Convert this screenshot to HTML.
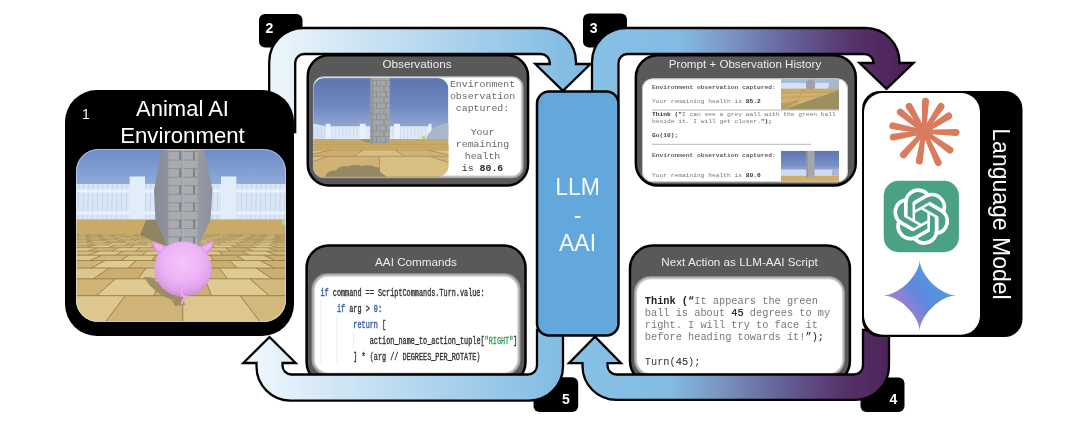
<!DOCTYPE html>
<html><head><meta charset="utf-8"><title>LLM-AAI</title>
<style>
html,body{margin:0;padding:0;background:#fff;}
body{width:1080px;height:423px;overflow:hidden;font-family:"Liberation Sans",sans-serif;}
svg{display:block;will-change:transform;transform:translateZ(0)}
.sans{font-family:"Liberation Sans",sans-serif}
.mono{font-family:"Liberation Mono",monospace}
.serif{font-family:"Liberation Serif",serif}
</style></head><body>
<svg width="1080" height="423" viewBox="0 0 1080 423">
<defs>
  <linearGradient id="gA2" gradientUnits="userSpaceOnUse" x1="269" y1="0" x2="577" y2="0">
    <stop offset="0" stop-color="#eef6fc"/><stop offset="1" stop-color="#80bbe2"/>
  </linearGradient>
  <linearGradient id="gA5" gradientUnits="userSpaceOnUse" x1="255" y1="0" x2="564" y2="0">
    <stop offset="0" stop-color="#eef6fc"/><stop offset="1" stop-color="#80bbe2"/>
  </linearGradient>
  <linearGradient id="gA3" gradientUnits="userSpaceOnUse" x1="591" y1="0" x2="900" y2="0">
    <stop offset="0" stop-color="#86c0e5"/><stop offset="0.28" stop-color="#84bde3"/><stop offset="0.45" stop-color="#7a95c1"/><stop offset="0.65" stop-color="#646098"/><stop offset="0.85" stop-color="#55336a"/><stop offset="1" stop-color="#4e2259"/>
  </linearGradient>
  <linearGradient id="gA4" gradientUnits="userSpaceOnUse" x1="581" y1="0" x2="890" y2="0">
    <stop offset="0" stop-color="#86c0e5"/><stop offset="0.28" stop-color="#84bde3"/><stop offset="0.45" stop-color="#7a95c1"/><stop offset="0.65" stop-color="#646098"/><stop offset="0.85" stop-color="#55336a"/><stop offset="1" stop-color="#4e2259"/>
  </linearGradient>
</defs>

<!-- number boxes -->
<g id="numboxes">
  <rect x="259" y="14" width="43.5" height="33.5" rx="6" fill="#000"/>
  <rect x="583" y="13.5" width="44" height="34" rx="6" fill="#000"/>
  <rect x="860.5" y="377.4" width="44" height="34.5" rx="6" fill="#000"/>
  <rect x="533.5" y="377.2" width="44.7" height="34.8" rx="6" fill="#000"/>
  <g class="sans" font-weight="bold" font-size="14" fill="#fff" text-anchor="middle">
    <text x="269.5" y="33">2</text>
    <text x="593.7" y="32.5">3</text>
    <text x="893.4" y="404.3">4</text>
    <text x="566" y="404">5</text>
  </g>
</g>

<!-- gray panels -->
<g id="panels">
  <!-- Observations -->
  <rect x="307.75" y="55.25" width="220.3" height="130.2" rx="21" fill="#595959" stroke="#000" stroke-width="2.5"/>
  <defs><clipPath id="bv1"><rect x="312.9" y="76.2" width="210.7" height="102" rx="11"/></clipPath><filter id="bf1" x="-10%" y="-10%" width="120%" height="120%"><feGaussianBlur stdDeviation="1.38462"/></filter></defs>
<g clip-path="url(#bv1)"><rect x="311.9" y="75.2" width="212.7" height="104" fill="#939393"/>
<rect x="313.89" y="77.19" width="207.73" height="99.03" rx="9.2" fill="#fff" filter="url(#bf1)"/>
<rect x="314.34" y="77.64" width="206.38" height="97.68" rx="8.12" fill="#fff"/></g>
  <text class="sans" x="417" y="67.5" font-size="11.75" fill="#ececec" text-anchor="middle">Observations</text>
  <defs><clipPath id="cobs"><rect x="313.3" y="78.1" width="135.1" height="98.7" rx="11"/></clipPath>
<linearGradient id="sky2" x1="0" y1="0" x2="0" y2="1"><stop offset="0" stop-color="#5d76b0"/><stop offset="0.45" stop-color="#6f88bf"/><stop offset="0.8" stop-color="#93a8d2"/><stop offset="1" stop-color="#c0cee6"/></linearGradient>
<linearGradient id="flr2" x1="0" y1="0" x2="0" y2="1"><stop offset="0" stop-color="#c8a766"/><stop offset="1" stop-color="#d2b374"/></linearGradient>
</defs>
<g clip-path="url(#cobs)">
<rect x="313.3" y="78.1" width="135.1" height="62" fill="url(#sky2)"/>
<polygon points="313,123.5 326,126.3 326,139.5 313,139.5" fill="#d5e2f2"/>
<rect x="326" y="126.3" width="44.5" height="13.2" fill="#dfeaf7"/>
<rect x="389.7" y="126.3" width="40.5" height="13.2" fill="#dfeaf7"/>
<line x1="314.0" y1="127" x2="314.0" y2="139" stroke="#c9d7ea" stroke-width="0.7"/>
<line x1="317.6" y1="127" x2="317.6" y2="139" stroke="#c9d7ea" stroke-width="0.7"/>
<line x1="321.2" y1="127" x2="321.2" y2="139" stroke="#c9d7ea" stroke-width="0.7"/>
<line x1="324.8" y1="127" x2="324.8" y2="139" stroke="#c9d7ea" stroke-width="0.7"/>
<line x1="328.4" y1="127" x2="328.4" y2="139" stroke="#c9d7ea" stroke-width="0.7"/>
<line x1="332.0" y1="127" x2="332.0" y2="139" stroke="#c9d7ea" stroke-width="0.7"/>
<line x1="335.6" y1="127" x2="335.6" y2="139" stroke="#c9d7ea" stroke-width="0.7"/>
<line x1="339.2" y1="127" x2="339.2" y2="139" stroke="#c9d7ea" stroke-width="0.7"/>
<line x1="342.8" y1="127" x2="342.8" y2="139" stroke="#c9d7ea" stroke-width="0.7"/>
<line x1="346.4" y1="127" x2="346.4" y2="139" stroke="#c9d7ea" stroke-width="0.7"/>
<line x1="350.0" y1="127" x2="350.0" y2="139" stroke="#c9d7ea" stroke-width="0.7"/>
<line x1="353.6" y1="127" x2="353.6" y2="139" stroke="#c9d7ea" stroke-width="0.7"/>
<line x1="357.2" y1="127" x2="357.2" y2="139" stroke="#c9d7ea" stroke-width="0.7"/>
<line x1="360.8" y1="127" x2="360.8" y2="139" stroke="#c9d7ea" stroke-width="0.7"/>
<line x1="364.4" y1="127" x2="364.4" y2="139" stroke="#c9d7ea" stroke-width="0.7"/>
<line x1="393.2" y1="127" x2="393.2" y2="139" stroke="#c9d7ea" stroke-width="0.7"/>
<line x1="396.8" y1="127" x2="396.8" y2="139" stroke="#c9d7ea" stroke-width="0.7"/>
<line x1="400.4" y1="127" x2="400.4" y2="139" stroke="#c9d7ea" stroke-width="0.7"/>
<line x1="404.0" y1="127" x2="404.0" y2="139" stroke="#c9d7ea" stroke-width="0.7"/>
<line x1="407.6" y1="127" x2="407.6" y2="139" stroke="#c9d7ea" stroke-width="0.7"/>
<line x1="411.2" y1="127" x2="411.2" y2="139" stroke="#c9d7ea" stroke-width="0.7"/>
<line x1="414.8" y1="127" x2="414.8" y2="139" stroke="#c9d7ea" stroke-width="0.7"/>
<line x1="418.4" y1="127" x2="418.4" y2="139" stroke="#c9d7ea" stroke-width="0.7"/>
<line x1="422.0" y1="127" x2="422.0" y2="139" stroke="#c9d7ea" stroke-width="0.7"/>
<line x1="425.6" y1="127" x2="425.6" y2="139" stroke="#c9d7ea" stroke-width="0.7"/>
<rect x="325.8" y="123.8" width="4.6" height="15.7" fill="#eaf1fa"/>
<rect x="359.8" y="123.8" width="5.8" height="15.7" fill="#eaf1fa"/>
<rect x="394" y="123.8" width="6" height="15.7" fill="#eaf1fa"/>
<rect x="428.5" y="123.8" width="3" height="15.7" fill="#eaf1fa"/>
<path d="M426 139.5 C428 131 437 124.5 449.5 122.5 L449.5 139.5 Z" fill="#a9b7cd"/>
<rect x="313.3" y="139.1" width="135.1" height="37.7" fill="url(#flr2)"/>
<polygon points="157.0,176.8 268.2,176.8 329.0,156.2 278.5,156.2" fill="#d9be82" stroke="#a58c56" stroke-width="0.60"/>
<polygon points="268.2,176.8 379.4,176.8 379.4,156.2 329.0,156.2" fill="#d1b275" stroke="#a58c56" stroke-width="0.60"/>
<polygon points="379.4,176.8 490.6,176.8 429.8,156.2 379.4,156.2" fill="#d9be82" stroke="#a58c56" stroke-width="0.60"/>
<polygon points="490.6,176.8 601.8,176.8 480.3,156.2 429.8,156.2" fill="#d1b275" stroke="#a58c56" stroke-width="0.60"/>
<polygon points="253.3,156.2 303.8,156.2 332.1,149.8 300.5,149.8" fill="#d9be82" stroke="#a58c56" stroke-width="0.60"/>
<polygon points="303.8,156.2 354.2,156.2 363.6,149.8 332.1,149.8" fill="#cdae70" stroke="#a58c56" stroke-width="0.60"/>
<polygon points="354.2,156.2 404.6,156.2 395.2,149.8 363.6,149.8" fill="#d9be82" stroke="#a58c56" stroke-width="0.60"/>
<polygon points="404.6,156.2 455.0,156.2 426.7,149.8 395.2,149.8" fill="#d1b275" stroke="#a58c56" stroke-width="0.60"/>
<polygon points="455.0,156.2 505.5,156.2 458.3,149.8 426.7,149.8" fill="#d9be82" stroke="#a58c56" stroke-width="0.60"/>
<polygon points="284.7,149.8 316.3,149.8 333.5,146.9 310.5,146.9" fill="#d9be82" stroke="#a58c56" stroke-width="0.40"/>
<polygon points="316.3,149.8 347.8,149.8 356.4,146.9 333.5,146.9" fill="#cdae70" stroke="#a58c56" stroke-width="0.40"/>
<polygon points="347.8,149.8 379.4,149.8 379.4,146.9 356.4,146.9" fill="#d9be82" stroke="#a58c56" stroke-width="0.40"/>
<polygon points="379.4,149.8 411.0,149.8 402.4,146.9 379.4,146.9" fill="#d1b275" stroke="#a58c56" stroke-width="0.40"/>
<polygon points="411.0,149.8 442.5,149.8 425.3,146.9 402.4,146.9" fill="#d7bb7e" stroke="#a58c56" stroke-width="0.40"/>
<polygon points="442.5,149.8 474.1,149.8 448.3,146.9 425.3,146.9" fill="#d1b275" stroke="#a58c56" stroke-width="0.40"/>
<polygon points="474.1,149.8 505.6,149.8 471.2,146.9 448.3,146.9" fill="#d9be82" stroke="#a58c56" stroke-width="0.40"/>
<polygon points="276.1,146.9 299.0,146.9 316.3,145.2 298.2,145.2" fill="#d1b275" stroke="#a58c56" stroke-width="0.30"/>
<polygon points="299.0,146.9 322.0,146.9 334.3,145.2 316.3,145.2" fill="#d9be82" stroke="#a58c56" stroke-width="0.30"/>
<polygon points="322.0,146.9 345.0,146.9 352.3,145.2 334.3,145.2" fill="#d1b275" stroke="#a58c56" stroke-width="0.30"/>
<polygon points="345.0,146.9 367.9,146.9 370.4,145.2 352.3,145.2" fill="#d7bb7e" stroke="#a58c56" stroke-width="0.30"/>
<polygon points="367.9,146.9 390.9,146.9 388.4,145.2 370.4,145.2" fill="#cdae70" stroke="#a58c56" stroke-width="0.30"/>
<polygon points="390.9,146.9 413.8,146.9 406.5,145.2 388.4,145.2" fill="#d7bb7e" stroke="#a58c56" stroke-width="0.30"/>
<polygon points="413.8,146.9 436.8,146.9 424.5,145.2 406.5,145.2" fill="#cdae70" stroke="#a58c56" stroke-width="0.30"/>
<polygon points="436.8,146.9 459.8,146.9 442.5,145.2 424.5,145.2" fill="#d9be82" stroke="#a58c56" stroke-width="0.30"/>
<polygon points="459.8,146.9 482.7,146.9 460.6,145.2 442.5,145.2" fill="#d1b275" stroke="#a58c56" stroke-width="0.30"/>
<rect x="313.3" y="139.1" width="135.1" height="10.8" fill="#c8a766"/>
<line x1="313.3" x2="448.4" y1="144.5" y2="144.5" stroke="#b89a5c" stroke-width="0.5"/>
<path d="M324 178.8 C326 172 331 170 336 170.5 C338 166.5 344 165.5 348 166.5 C352 164.5 358 164.8 362 166 C366 164.5 372 165 375 167 L379.4 167.5 L380 172 L386 176 L387 178.8 Z" fill="#948966"/>
<ellipse cx="423.6" cy="137.4" rx="2.3" ry="1.5" fill="#b5dc6a"/>
<polygon points="359.5,139.3 370.5,139.3 370.5,143.4 365,142.2" fill="#a39468"/>
<rect x="370.5" y="78" width="19.3" height="65.4" fill="#a3a5a9"/>
<rect x="370.5" y="78" width="3" height="65.4" fill="#94979d"/>
<line x1="380" x2="380" y1="78" y2="143.4" stroke="#8f9197" stroke-width="0.6"/>
<line x1="370.5" x2="389.8" y1="80.5" y2="80.5" stroke="#8a8c92" stroke-width="0.6"/>
<line x1="376.5" x2="376.5" y1="80.5" y2="86.1" stroke="#7d7f85" stroke-width="0.7"/>
<line x1="386.0" x2="386.0" y1="80.5" y2="86.1" stroke="#7d7f85" stroke-width="0.7"/>
<line x1="370.5" x2="389.8" y1="86.1" y2="86.1" stroke="#8a8c92" stroke-width="0.6"/>
<line x1="384.0" x2="384.0" y1="86.1" y2="91.7" stroke="#7d7f85" stroke-width="0.7"/>
<line x1="370.5" x2="389.8" y1="91.7" y2="91.7" stroke="#8a8c92" stroke-width="0.6"/>
<line x1="376.5" x2="376.5" y1="91.7" y2="97.3" stroke="#7d7f85" stroke-width="0.7"/>
<line x1="386.0" x2="386.0" y1="91.7" y2="97.3" stroke="#7d7f85" stroke-width="0.7"/>
<line x1="370.5" x2="389.8" y1="97.3" y2="97.3" stroke="#8a8c92" stroke-width="0.6"/>
<line x1="384.0" x2="384.0" y1="97.3" y2="102.9" stroke="#7d7f85" stroke-width="0.7"/>
<line x1="370.5" x2="389.8" y1="102.9" y2="102.9" stroke="#8a8c92" stroke-width="0.6"/>
<line x1="376.5" x2="376.5" y1="102.9" y2="108.5" stroke="#7d7f85" stroke-width="0.7"/>
<line x1="386.0" x2="386.0" y1="102.9" y2="108.5" stroke="#7d7f85" stroke-width="0.7"/>
<line x1="370.5" x2="389.8" y1="108.5" y2="108.5" stroke="#8a8c92" stroke-width="0.6"/>
<line x1="384.0" x2="384.0" y1="108.5" y2="114.1" stroke="#7d7f85" stroke-width="0.7"/>
<line x1="370.5" x2="389.8" y1="114.1" y2="114.1" stroke="#8a8c92" stroke-width="0.6"/>
<line x1="376.5" x2="376.5" y1="114.1" y2="119.7" stroke="#7d7f85" stroke-width="0.7"/>
<line x1="386.0" x2="386.0" y1="114.1" y2="119.7" stroke="#7d7f85" stroke-width="0.7"/>
<line x1="370.5" x2="389.8" y1="119.7" y2="119.7" stroke="#8a8c92" stroke-width="0.6"/>
<line x1="384.0" x2="384.0" y1="119.7" y2="125.3" stroke="#7d7f85" stroke-width="0.7"/>
<line x1="370.5" x2="389.8" y1="125.3" y2="125.3" stroke="#8a8c92" stroke-width="0.6"/>
<line x1="376.5" x2="376.5" y1="125.3" y2="130.9" stroke="#7d7f85" stroke-width="0.7"/>
<line x1="386.0" x2="386.0" y1="125.3" y2="130.9" stroke="#7d7f85" stroke-width="0.7"/>
<line x1="370.5" x2="389.8" y1="130.9" y2="130.9" stroke="#8a8c92" stroke-width="0.6"/>
<line x1="384.0" x2="384.0" y1="130.9" y2="136.5" stroke="#7d7f85" stroke-width="0.7"/>
<line x1="370.5" x2="389.8" y1="136.5" y2="136.5" stroke="#8a8c92" stroke-width="0.6"/>
<line x1="376.5" x2="376.5" y1="136.5" y2="142.1" stroke="#7d7f85" stroke-width="0.7"/>
<line x1="386.0" x2="386.0" y1="136.5" y2="142.1" stroke="#7d7f85" stroke-width="0.7"/>
<line x1="370.5" x2="389.8" y1="142.1" y2="142.1" stroke="#8a8c92" stroke-width="0.6"/>
<line x1="384.0" x2="384.0" y1="142.1" y2="143.4" stroke="#7d7f85" stroke-width="0.7"/>
</g>
  <g class="mono" font-size="9.9" fill="#686868" text-anchor="middle">
    <text x="482.5" y="86.8">Environment</text>
    <text x="482.5" y="99">observation</text>
    <text x="482.5" y="111.2">captured:</text>
    <text x="482.5" y="134.6">Your</text>
    <text x="482.5" y="146.8">remaining</text>
    <text x="482.5" y="159">health</text>
    <text x="482.5" y="171.2" fill="#333">is <tspan font-weight="bold" fill="#2a2a2a">80.6</tspan></text>
  </g>
  <!-- AAI Commands -->
  <rect x="306.6" y="245.55" width="218.9" height="138.5" rx="22" fill="#595959" stroke="#000" stroke-width="2.5"/>
  <defs><clipPath id="bv2"><rect x="311.5" y="273.3" width="209" height="102.2" rx="16"/></clipPath><filter id="bf2" x="-10%" y="-10%" width="120%" height="120%"><feGaussianBlur stdDeviation="1.61538"/></filter></defs>
<g clip-path="url(#bv2)"><rect x="310.5" y="272.3" width="211" height="104.2" fill="#939393"/>
<rect x="314.03" y="275.83" width="204.16" height="97.36" rx="13.9" fill="#fff" filter="url(#bf2)"/>
<rect x="315.18" y="276.98" width="201.96" height="95.16" rx="12.64" fill="#fff"/></g>
  <text class="sans" x="416" y="265.7" font-size="11.7" fill="#ececec" text-anchor="middle">AAI Commands</text>
  <g stroke="#e4e4e4" stroke-width="0.7">
    <line x1="321" y1="300" x2="321" y2="364"/><line x1="337" y1="316" x2="337" y2="364"/><line x1="353.5" y1="332" x2="353.5" y2="348"/>
  </g>
  <g class="mono" font-size="10.2" fill="#303030" stroke="#303030" stroke-width="0.35" transform="translate(320.5,0) scale(0.671,1)">
    <text x="0" y="296"><tspan fill="#2a57a8" stroke="#2a57a8">if</tspan> command == ScriptCommands.Turn.value:</text>
    <text x="24.48" y="312"><tspan fill="#2a57a8" stroke="#2a57a8">if</tspan> arg &gt; <tspan fill="#2a57a8" stroke="#2a57a8">0</tspan>:</text>
    <text x="48.96" y="328"><tspan fill="#2a57a8" stroke="#2a57a8">return</tspan> [</text>
    <text x="73.44" y="344">action_name_to_action_tuple[<tspan fill="#2f9a5c" stroke="#2f9a5c">"RIGHT"</tspan>]</text>
    <text x="48.96" y="360">] * (arg // DEGREES_PER_ROTATE)</text>
  </g>
  <!-- Prompt + Observation History -->
  <rect x="635.85" y="55.25" width="219.9" height="130.2" rx="22" fill="#595959" stroke="#000" stroke-width="2.5"/>
  <rect x="642" y="78.4" width="206" height="103.8" rx="10.5" fill="#fff"/><rect x="642.5" y="78.9" width="205" height="102.8" rx="10" fill="none" stroke="#c6c6c6" stroke-width="1"/>
  <text class="sans" x="745" y="67.5" font-size="11.6" fill="#ececec" text-anchor="middle">Prompt + Observation History</text>
  <defs><clipPath id="csm1"><rect x="781" y="78.7" width="58" height="30.8"/></clipPath></defs>
<g clip-path="url(#csm1)">
<rect x="781" y="78.7" width="58" height="10" fill="#a4bce0"/>
<rect x="781" y="83" width="58" height="6" fill="#d6e2f1"/>
<path d="M806 89 L806 82.5 C807 78.6 814 78.6 815 82.5 L815 89Z" fill="#9ea2aa"/>
<polygon points="827.8,89 829.5,82 839,80.5 839,89" fill="#a9b7cb"/>
<rect x="781" y="88.8" width="58" height="22" fill="#d2b06d"/>
<rect x="781" y="88.8" width="58" height="3.5" fill="#cba968"/>
<polygon points="784,109.5 839,90 839,109.5" fill="#9d8f62"/>
<polygon points="781,103.5 800,100 784,109.5 781,109.5" fill="#b89d62"/>
<line x1="781" y1="97.5" x2="820" y2="96.2" stroke="#b0935a" stroke-width="0.5"/>
<line x1="781" y1="93" x2="839" y2="92" stroke="#b0935a" stroke-width="0.5"/>
<line x1="803" y1="88.8" x2="793" y2="109.5" stroke="#b0935a" stroke-width="0.5"/>
</g>
<defs><clipPath id="csm2"><rect x="781" y="150.7" width="58" height="30.8"/></clipPath>
<linearGradient id="sky3" x1="0" y1="0" x2="0" y2="1"><stop offset="0" stop-color="#5d76b2"/><stop offset="0.6" stop-color="#7a92c8"/><stop offset="1" stop-color="#b4c5e2"/></linearGradient></defs>
<g clip-path="url(#csm2)">
<rect x="781" y="150.7" width="58" height="25" fill="url(#sky3)"/>
<rect x="781" y="169.5" width="25.5" height="6.5" fill="#cfdcee"/>
<rect x="814" y="169.5" width="19" height="6.5" fill="#cfdcee"/>
<polygon points="832,175.5 832,170 839,168.5 839,175.5" fill="#a9b7cb"/>
<rect x="781" y="175.8" width="58" height="7" fill="#cfae6b"/>
<rect x="806.5" y="150.7" width="8" height="26.5" fill="#a4a6ab"/>
<rect x="806.5" y="150.7" width="1.5" height="26.5" fill="#94979d"/>
</g>
  <g class="mono" font-size="6.25" fill="#777" style="white-space:pre">
    <text x="652" y="88.5" fill="#5a5a5a" font-weight="bold">Environment observation captured:</text>
    <text x="652" y="102.5">Your remaining health is <tspan fill="#333" font-weight="bold">85.2</tspan></text>
    <text x="652" y="115.8"><tspan fill="#333" font-weight="bold">Think ("</tspan>I can see a grey wall with the green ball</text>
    <text x="652" y="122.7">beside it. I will get closer.<tspan fill="#333" font-weight="bold">");</tspan></text>
    <text x="652" y="136.5" fill="#444" font-weight="bold">Go(10);</text>
    <text x="652" y="156.8" fill="#5a5a5a" font-weight="bold">Environment observation captured:</text>
    <text x="652" y="177.3">Your remaining health is <tspan fill="#333" font-weight="bold">80.6</tspan></text>
  </g>
  <line x1="652" y1="110" x2="839" y2="110" stroke="#888" stroke-width="0.6"/>
  <line x1="652" y1="144.3" x2="811" y2="144.3" stroke="#888" stroke-width="0.6"/>
  <!-- Next Action -->
  <rect x="630" y="245.55" width="219.9" height="138.5" rx="23" fill="#595959" stroke="#000" stroke-width="2.5"/>
  <defs><clipPath id="bv4"><rect x="634" y="276.2" width="210.8" height="99.8" rx="16"/></clipPath><filter id="bf4" x="-10%" y="-10%" width="120%" height="120%"><feGaussianBlur stdDeviation="1.38462"/></filter></defs>
<g clip-path="url(#bv4)"><rect x="633" y="275.2" width="212.8" height="101.8" fill="#939393"/>
<rect x="636.31" y="278.51" width="206.51" height="95.51" rx="14.2" fill="#fff" filter="url(#bf4)"/>
<rect x="637.36" y="279.56" width="204.56" height="93.56" rx="13.12" fill="#fff"/></g>
  <text class="sans" x="739.5" y="266" font-size="11.68" fill="#ececec" text-anchor="middle">Next Action as LLM-AAI Script</text>
  <g class="mono" font-size="10.3" fill="#787878" style="white-space:pre">
    <text x="644.8" y="303.5"><tspan fill="#222" font-weight="bold">Think (“</tspan>It appears the green</text>
    <text x="644.8" y="315.8">ball is about <tspan fill="#222" stroke="#222" stroke-width="0.2">45</tspan> degrees to my</text>
    <text x="644.8" y="328.1">right. I will try to face it</text>
    <text x="644.8" y="340.4">before heading towards it!<tspan fill="#222">”);</tspan></text>
    <text x="644.8" y="365" fill="#333">Turn(<tspan stroke="#333" stroke-width="0.12">45</tspan>);</text>
  </g>
</g>


<!-- arrows -->
<g stroke="#000" stroke-width="2.3" stroke-linejoin="miter">
  <path d="M269.2 132 L269.2 62 A34 34 0 0 1 303.2 28 L542 28 A34 34 0 0 1 576 62 L576 64 L590.5 64 L562.9 90.8 L535.3 64 L549.8 64 L549.8 63 A9 9 0 0 0 540.8 54 L304.2 54 A9 9 0 0 0 295.2 63 L295.2 132 Z" fill="url(#gA2)"/>
  <path d="M592 100 L592 62 A34 34 0 0 1 626 28 L865.5 28 A34 34 0 0 1 899.5 62 L899.5 63 L913.5 63 L886.5 88.8 L859.5 63 L873.5 63 L873.5 63 A9 9 0 0 0 864.5 54 L627.5 54 A9 9 0 0 0 618.5 63 L618.5 100 Z" fill="url(#gA3)"/>
  <path d="M889 330 L889 365.9 A34 34 0 0 1 855 399.9 L616.5 399.9 A34 34 0 0 1 582.5 365.9 L582.5 363.2 L569.0 363.2 L595.0 336.7 L621.0 363.2 L607.5 363.2 L607.5 365.5 A9 9 0 0 0 616.5 374.5 L854 374.5 A9 9 0 0 0 863 365.5 L863 330 Z" fill="url(#gA4)"/>
  <path d="M563 330 L563 366.6 A34 34 0 0 1 529 400.6 L290.5 400.6 A34 34 0 0 1 256.5 366.6 L256.5 363 L243.3 363 L269.5 337 L295.7 363 L282.5 363 L282.5 365.5 A9 9 0 0 0 291.5 374.5 L528 374.5 A9 9 0 0 0 537 365.5 L537 330 Z" fill="url(#gA5)"/>
</g>

<!-- main boxes -->
<g id="main">
  <!-- box 1 -->
  <rect x="65" y="90" width="229" height="246" rx="32" fill="#000"/>
  <defs><clipPath id="cpig"><rect x="76" y="149" width="210" height="173" rx="22"/></clipPath>
<linearGradient id="sky1" x1="0" y1="0" x2="0" y2="1"><stop offset="0" stop-color="#6c8cc8"/><stop offset="0.5" stop-color="#90abd9"/><stop offset="1" stop-color="#c6d7ee"/></linearGradient>
<linearGradient id="flr1" x1="0" y1="0" x2="0" y2="1"><stop offset="0" stop-color="#c6a661"/><stop offset="1" stop-color="#dcc48a"/></linearGradient>
<radialGradient id="pigg" cx="0.5" cy="0.38" r="0.62"><stop offset="0" stop-color="#f4c4fb"/><stop offset="0.55" stop-color="#edb3f6"/><stop offset="0.85" stop-color="#df9fea"/><stop offset="1" stop-color="#c98ad6"/></radialGradient>
<linearGradient id="pil1" x1="0" y1="0" x2="1" y2="0"><stop offset="0" stop-color="#858a94"/><stop offset="0.25" stop-color="#8f949d"/><stop offset="0.75" stop-color="#979ba3"/><stop offset="1" stop-color="#8c919a"/></linearGradient>
</defs>
<g clip-path="url(#cpig)">
<rect x="76" y="149" width="210" height="71.5" fill="url(#sky1)"/>
<rect x="76" y="184" width="210" height="36.5" fill="#d9e6f5"/>
<line x1="78.8" y1="184" x2="78.0" y2="220" stroke="#c2d1e6" stroke-width="0.9"/>
<line x1="83.6" y1="184" x2="82.8" y2="220" stroke="#c2d1e6" stroke-width="0.9"/>
<line x1="88.4" y1="184" x2="87.6" y2="220" stroke="#c2d1e6" stroke-width="0.9"/>
<line x1="93.2" y1="184" x2="92.4" y2="220" stroke="#c2d1e6" stroke-width="0.9"/>
<line x1="98.0" y1="184" x2="97.2" y2="220" stroke="#c2d1e6" stroke-width="0.9"/>
<line x1="102.8" y1="184" x2="102.0" y2="220" stroke="#c2d1e6" stroke-width="0.9"/>
<line x1="107.6" y1="184" x2="106.8" y2="220" stroke="#c2d1e6" stroke-width="0.9"/>
<line x1="112.4" y1="184" x2="111.6" y2="220" stroke="#c2d1e6" stroke-width="0.9"/>
<line x1="117.2" y1="184" x2="116.4" y2="220" stroke="#c2d1e6" stroke-width="0.9"/>
<line x1="122.0" y1="184" x2="121.2" y2="220" stroke="#c2d1e6" stroke-width="0.9"/>
<line x1="126.8" y1="184" x2="126.0" y2="220" stroke="#c2d1e6" stroke-width="0.9"/>
<line x1="131.6" y1="184" x2="130.8" y2="220" stroke="#c2d1e6" stroke-width="0.9"/>
<line x1="136.4" y1="184" x2="135.6" y2="220" stroke="#c2d1e6" stroke-width="0.9"/>
<line x1="141.2" y1="184" x2="140.4" y2="220" stroke="#c2d1e6" stroke-width="0.9"/>
<line x1="146.0" y1="184" x2="145.2" y2="220" stroke="#c2d1e6" stroke-width="0.9"/>
<line x1="150.8" y1="184" x2="150.0" y2="220" stroke="#c2d1e6" stroke-width="0.9"/>
<line x1="155.6" y1="184" x2="154.8" y2="220" stroke="#c2d1e6" stroke-width="0.9"/>
<line x1="160.4" y1="184" x2="159.6" y2="220" stroke="#c2d1e6" stroke-width="0.9"/>
<line x1="165.2" y1="184" x2="164.4" y2="220" stroke="#c2d1e6" stroke-width="0.9"/>
<line x1="170.0" y1="184" x2="169.2" y2="220" stroke="#c2d1e6" stroke-width="0.9"/>
<line x1="174.8" y1="184" x2="174.0" y2="220" stroke="#c2d1e6" stroke-width="0.9"/>
<line x1="179.6" y1="184" x2="178.8" y2="220" stroke="#c2d1e6" stroke-width="0.9"/>
<line x1="184.4" y1="184" x2="183.6" y2="220" stroke="#c2d1e6" stroke-width="0.9"/>
<line x1="189.2" y1="184" x2="188.4" y2="220" stroke="#c2d1e6" stroke-width="0.9"/>
<line x1="194.0" y1="184" x2="193.2" y2="220" stroke="#c2d1e6" stroke-width="0.9"/>
<line x1="198.8" y1="184" x2="198.0" y2="220" stroke="#c2d1e6" stroke-width="0.9"/>
<line x1="203.6" y1="184" x2="202.8" y2="220" stroke="#c2d1e6" stroke-width="0.9"/>
<line x1="208.4" y1="184" x2="207.6" y2="220" stroke="#c2d1e6" stroke-width="0.9"/>
<line x1="213.2" y1="184" x2="212.4" y2="220" stroke="#c2d1e6" stroke-width="0.9"/>
<line x1="218.0" y1="184" x2="217.2" y2="220" stroke="#c2d1e6" stroke-width="0.9"/>
<line x1="222.8" y1="184" x2="222.0" y2="220" stroke="#c2d1e6" stroke-width="0.9"/>
<line x1="227.6" y1="184" x2="226.8" y2="220" stroke="#c2d1e6" stroke-width="0.9"/>
<line x1="232.4" y1="184" x2="231.6" y2="220" stroke="#c2d1e6" stroke-width="0.9"/>
<line x1="237.2" y1="184" x2="236.4" y2="220" stroke="#c2d1e6" stroke-width="0.9"/>
<line x1="242.0" y1="184" x2="241.2" y2="220" stroke="#c2d1e6" stroke-width="0.9"/>
<line x1="246.8" y1="184" x2="246.0" y2="220" stroke="#c2d1e6" stroke-width="0.9"/>
<line x1="251.6" y1="184" x2="250.8" y2="220" stroke="#c2d1e6" stroke-width="0.9"/>
<line x1="256.4" y1="184" x2="255.6" y2="220" stroke="#c2d1e6" stroke-width="0.9"/>
<line x1="261.2" y1="184" x2="260.4" y2="220" stroke="#c2d1e6" stroke-width="0.9"/>
<line x1="266.0" y1="184" x2="265.2" y2="220" stroke="#c2d1e6" stroke-width="0.9"/>
<line x1="270.8" y1="184" x2="270.0" y2="220" stroke="#c2d1e6" stroke-width="0.9"/>
<line x1="275.6" y1="184" x2="274.8" y2="220" stroke="#c2d1e6" stroke-width="0.9"/>
<line x1="280.4" y1="184" x2="279.6" y2="220" stroke="#c2d1e6" stroke-width="0.9"/>
<line x1="285.2" y1="184" x2="284.4" y2="220" stroke="#c2d1e6" stroke-width="0.9"/>
<line x1="290.0" y1="184" x2="289.2" y2="220" stroke="#c2d1e6" stroke-width="0.9"/>
<rect x="76" y="189.5" width="210" height="3" fill="#e9f2fb"/>
<rect x="76" y="211.5" width="210" height="3" fill="#e9f2fb"/>
<rect x="129.6" y="176.5" width="15.4" height="44" fill="#e2edf9"/>
<rect x="221" y="176.5" width="15.4" height="44" fill="#e2edf9"/>
<rect x="76" y="219.5" width="210" height="102.5" fill="url(#flr1)"/>
<polygon points="28.2,322.0 105.5,322.0 125.4,295.6 68.0,295.6" fill="#dec78e" stroke="#8f7c4c" stroke-width="0.70"/>
<polygon points="105.5,322.0 182.8,322.0 182.8,295.6 125.4,295.6" fill="#cfb377" stroke="#8f7c4c" stroke-width="0.70"/>
<polygon points="182.8,322.0 260.1,322.0 240.2,295.6 182.8,295.6" fill="#dec78e" stroke="#8f7c4c" stroke-width="0.70"/>
<polygon points="260.1,322.0 337.4,322.0 297.6,295.6 240.2,295.6" fill="#d2b87c" stroke="#8f7c4c" stroke-width="0.70"/>
<polygon points="39.3,295.6 96.7,295.6 115.8,278.7 71.2,278.7" fill="#cfb377" stroke="#8f7c4c" stroke-width="0.70"/>
<polygon points="96.7,295.6 154.1,295.6 160.5,278.7 115.8,278.7" fill="#e0ca92" stroke="#8f7c4c" stroke-width="0.70"/>
<polygon points="154.1,295.6 211.5,295.6 205.1,278.7 160.5,278.7" fill="#cbae70" stroke="#8f7c4c" stroke-width="0.70"/>
<polygon points="211.5,295.6 268.9,295.6 249.8,278.7 205.1,278.7" fill="#e0ca92" stroke="#8f7c4c" stroke-width="0.70"/>
<polygon points="268.9,295.6 326.3,295.6 294.4,278.7 249.8,278.7" fill="#d2b87c" stroke="#8f7c4c" stroke-width="0.70"/>
<polygon points="48.9,278.7 93.5,278.7 109.7,267.9 73.2,267.9" fill="#dec78e" stroke="#8f7c4c" stroke-width="0.70"/>
<polygon points="93.5,278.7 138.2,278.7 146.3,267.9 109.7,267.9" fill="#cbae70" stroke="#8f7c4c" stroke-width="0.70"/>
<polygon points="138.2,278.7 182.8,278.7 182.8,267.9 146.3,267.9" fill="#dec78e" stroke="#8f7c4c" stroke-width="0.70"/>
<polygon points="182.8,278.7 227.4,278.7 219.3,267.9 182.8,267.9" fill="#cfb377" stroke="#8f7c4c" stroke-width="0.70"/>
<polygon points="227.4,278.7 272.1,278.7 255.9,267.9 219.3,267.9" fill="#e0ca92" stroke="#8f7c4c" stroke-width="0.70"/>
<polygon points="272.1,278.7 316.7,278.7 292.4,267.9 255.9,267.9" fill="#cbae70" stroke="#8f7c4c" stroke-width="0.70"/>
<polygon points="54.9,267.9 91.5,267.9 105.5,260.5 74.6,260.5" fill="#cfb377" stroke="#8f7c4c" stroke-width="0.70"/>
<polygon points="91.5,267.9 128.0,267.9 136.4,260.5 105.5,260.5" fill="#e0ca92" stroke="#8f7c4c" stroke-width="0.70"/>
<polygon points="128.0,267.9 164.5,267.9 167.3,260.5 136.4,260.5" fill="#d2b87c" stroke="#8f7c4c" stroke-width="0.70"/>
<polygon points="164.5,267.9 201.1,267.9 198.3,260.5 167.3,260.5" fill="#dcc58b" stroke="#8f7c4c" stroke-width="0.70"/>
<polygon points="201.1,267.9 237.6,267.9 229.2,260.5 198.3,260.5" fill="#cbae70" stroke="#8f7c4c" stroke-width="0.70"/>
<polygon points="237.6,267.9 274.1,267.9 260.1,260.5 229.2,260.5" fill="#dec78e" stroke="#8f7c4c" stroke-width="0.70"/>
<polygon points="274.1,267.9 310.7,267.9 291.0,260.5 260.1,260.5" fill="#cbae70" stroke="#8f7c4c" stroke-width="0.70"/>
<polygon points="59.1,260.5 90.1,260.5 102.4,255.0 75.6,255.0" fill="#dcc58b" stroke="#8f7c4c" stroke-width="0.69"/>
<polygon points="90.1,260.5 121.0,260.5 129.2,255.0 102.4,255.0" fill="#d2b87c" stroke="#8f7c4c" stroke-width="0.69"/>
<polygon points="121.0,260.5 151.9,260.5 156.0,255.0 129.2,255.0" fill="#dcc58b" stroke="#8f7c4c" stroke-width="0.69"/>
<polygon points="151.9,260.5 182.8,260.5 182.8,255.0 156.0,255.0" fill="#cbae70" stroke="#8f7c4c" stroke-width="0.69"/>
<polygon points="182.8,260.5 213.7,260.5 209.6,255.0 182.8,255.0" fill="#e0ca92" stroke="#8f7c4c" stroke-width="0.69"/>
<polygon points="213.7,260.5 244.6,260.5 236.4,255.0 209.6,255.0" fill="#cbae70" stroke="#8f7c4c" stroke-width="0.69"/>
<polygon points="244.6,260.5 275.5,260.5 263.2,255.0 236.4,255.0" fill="#dcc58b" stroke="#8f7c4c" stroke-width="0.69"/>
<polygon points="275.5,260.5 306.5,260.5 290.0,255.0 263.2,255.0" fill="#cbae70" stroke="#8f7c4c" stroke-width="0.69"/>
<polygon points="35.4,255.0 62.2,255.0 76.4,250.9 52.8,250.9" fill="#dcc58b" stroke="#8f7c4c" stroke-width="0.58"/>
<polygon points="62.2,255.0 89.0,255.0 100.0,250.9 76.4,250.9" fill="#d2b87c" stroke="#8f7c4c" stroke-width="0.58"/>
<polygon points="89.0,255.0 115.8,255.0 123.7,250.9 100.0,250.9" fill="#dec78e" stroke="#8f7c4c" stroke-width="0.58"/>
<polygon points="115.8,255.0 142.6,255.0 147.3,250.9 123.7,250.9" fill="#d2b87c" stroke="#8f7c4c" stroke-width="0.58"/>
<polygon points="142.6,255.0 169.4,255.0 171.0,250.9 147.3,250.9" fill="#dcc58b" stroke="#8f7c4c" stroke-width="0.58"/>
<polygon points="169.4,255.0 196.2,255.0 194.6,250.9 171.0,250.9" fill="#cfb377" stroke="#8f7c4c" stroke-width="0.58"/>
<polygon points="196.2,255.0 223.0,255.0 218.3,250.9 194.6,250.9" fill="#dec78e" stroke="#8f7c4c" stroke-width="0.58"/>
<polygon points="223.0,255.0 249.8,255.0 241.9,250.9 218.3,250.9" fill="#cbae70" stroke="#8f7c4c" stroke-width="0.58"/>
<polygon points="249.8,255.0 276.6,255.0 265.6,250.9 241.9,250.9" fill="#dec78e" stroke="#8f7c4c" stroke-width="0.58"/>
<polygon points="276.6,255.0 303.4,255.0 289.2,250.9 265.6,250.9" fill="#cfb377" stroke="#8f7c4c" stroke-width="0.58"/>
<polygon points="40.9,250.9 64.6,250.9 77.0,247.6 55.9,247.6" fill="#cbae70" stroke="#8f7c4c" stroke-width="0.50"/>
<polygon points="64.6,250.9 88.2,250.9 98.2,247.6 77.0,247.6" fill="#dec78e" stroke="#8f7c4c" stroke-width="0.50"/>
<polygon points="88.2,250.9 111.9,250.9 119.3,247.6 98.2,247.6" fill="#cfb377" stroke="#8f7c4c" stroke-width="0.50"/>
<polygon points="111.9,250.9 135.5,250.9 140.5,247.6 119.3,247.6" fill="#dec78e" stroke="#8f7c4c" stroke-width="0.50"/>
<polygon points="135.5,250.9 159.2,250.9 161.6,247.6 140.5,247.6" fill="#d2b87c" stroke="#8f7c4c" stroke-width="0.50"/>
<polygon points="159.2,250.9 182.8,250.9 182.8,247.6 161.6,247.6" fill="#dcc58b" stroke="#8f7c4c" stroke-width="0.50"/>
<polygon points="182.8,250.9 206.4,250.9 204.0,247.6 182.8,247.6" fill="#cfb377" stroke="#8f7c4c" stroke-width="0.50"/>
<polygon points="206.4,250.9 230.1,250.9 225.1,247.6 204.0,247.6" fill="#dcc58b" stroke="#8f7c4c" stroke-width="0.50"/>
<polygon points="230.1,250.9 253.7,250.9 246.3,247.6 225.1,247.6" fill="#cbae70" stroke="#8f7c4c" stroke-width="0.50"/>
<polygon points="253.7,250.9 277.4,250.9 267.4,247.6 246.3,247.6" fill="#dcc58b" stroke="#8f7c4c" stroke-width="0.50"/>
<polygon points="277.4,250.9 301.0,250.9 288.6,247.6 267.4,247.6" fill="#cbae70" stroke="#8f7c4c" stroke-width="0.50"/>
<polygon points="45.3,247.6 66.4,247.6 77.5,244.9 58.4,244.9" fill="#e0ca92" stroke="#8f7c4c" stroke-width="0.44"/>
<polygon points="66.4,247.6 87.6,247.6 96.7,244.9 77.5,244.9" fill="#cbae70" stroke="#8f7c4c" stroke-width="0.44"/>
<polygon points="87.6,247.6 108.8,247.6 115.8,244.9 96.7,244.9" fill="#e0ca92" stroke="#8f7c4c" stroke-width="0.44"/>
<polygon points="108.8,247.6 129.9,247.6 134.9,244.9 115.8,244.9" fill="#d2b87c" stroke="#8f7c4c" stroke-width="0.44"/>
<polygon points="129.9,247.6 151.1,247.6 154.1,244.9 134.9,244.9" fill="#e0ca92" stroke="#8f7c4c" stroke-width="0.44"/>
<polygon points="151.1,247.6 172.2,247.6 173.2,244.9 154.1,244.9" fill="#d2b87c" stroke="#8f7c4c" stroke-width="0.44"/>
<polygon points="172.2,247.6 193.4,247.6 192.4,244.9 173.2,244.9" fill="#dcc58b" stroke="#8f7c4c" stroke-width="0.44"/>
<polygon points="193.4,247.6 214.5,247.6 211.5,244.9 192.4,244.9" fill="#cbae70" stroke="#8f7c4c" stroke-width="0.44"/>
<polygon points="214.5,247.6 235.7,247.6 230.7,244.9 211.5,244.9" fill="#e0ca92" stroke="#8f7c4c" stroke-width="0.44"/>
<polygon points="235.7,247.6 256.8,247.6 249.8,244.9 230.7,244.9" fill="#cbae70" stroke="#8f7c4c" stroke-width="0.44"/>
<polygon points="256.8,247.6 278.0,247.6 268.9,244.9 249.8,244.9" fill="#e0ca92" stroke="#8f7c4c" stroke-width="0.44"/>
<polygon points="278.0,247.6 299.2,247.6 288.1,244.9 268.9,244.9" fill="#d2b87c" stroke="#8f7c4c" stroke-width="0.44"/>
<polygon points="48.8,244.9 67.9,244.9 77.9,242.7 60.5,242.7" fill="#cfb377" stroke="#8f7c4c" stroke-width="0.40"/>
<polygon points="67.9,244.9 87.1,244.9 95.4,242.7 77.9,242.7" fill="#dcc58b" stroke="#8f7c4c" stroke-width="0.40"/>
<polygon points="87.1,244.9 106.2,244.9 112.9,242.7 95.4,242.7" fill="#d2b87c" stroke="#8f7c4c" stroke-width="0.40"/>
<polygon points="106.2,244.9 125.4,244.9 130.4,242.7 112.9,242.7" fill="#e0ca92" stroke="#8f7c4c" stroke-width="0.40"/>
<polygon points="125.4,244.9 144.5,244.9 147.8,242.7 130.4,242.7" fill="#cfb377" stroke="#8f7c4c" stroke-width="0.40"/>
<polygon points="144.5,244.9 163.7,244.9 165.3,242.7 147.8,242.7" fill="#dcc58b" stroke="#8f7c4c" stroke-width="0.40"/>
<polygon points="163.7,244.9 182.8,244.9 182.8,242.7 165.3,242.7" fill="#cfb377" stroke="#8f7c4c" stroke-width="0.40"/>
<polygon points="182.8,244.9 201.9,244.9 200.3,242.7 182.8,242.7" fill="#dcc58b" stroke="#8f7c4c" stroke-width="0.40"/>
<polygon points="201.9,244.9 221.1,244.9 217.8,242.7 200.3,242.7" fill="#d2b87c" stroke="#8f7c4c" stroke-width="0.40"/>
<polygon points="221.1,244.9 240.2,244.9 235.2,242.7 217.8,242.7" fill="#dec78e" stroke="#8f7c4c" stroke-width="0.40"/>
<polygon points="240.2,244.9 259.4,244.9 252.7,242.7 235.2,242.7" fill="#d2b87c" stroke="#8f7c4c" stroke-width="0.40"/>
<polygon points="259.4,244.9 278.5,244.9 270.2,242.7 252.7,242.7" fill="#e0ca92" stroke="#8f7c4c" stroke-width="0.40"/>
<polygon points="278.5,244.9 297.7,244.9 287.7,242.7 270.2,242.7" fill="#d2b87c" stroke="#8f7c4c" stroke-width="0.40"/>
<polygon points="51.7,242.7 69.2,242.7 78.3,240.8 62.2,240.8" fill="#dcc58b" stroke="#8f7c4c" stroke-width="0.37"/>
<polygon points="69.2,242.7 86.7,242.7 94.4,240.8 78.3,240.8" fill="#d2b87c" stroke="#8f7c4c" stroke-width="0.37"/>
<polygon points="86.7,242.7 104.1,242.7 110.4,240.8 94.4,240.8" fill="#e0ca92" stroke="#8f7c4c" stroke-width="0.37"/>
<polygon points="104.1,242.7 121.6,242.7 126.5,240.8 110.4,240.8" fill="#cbae70" stroke="#8f7c4c" stroke-width="0.37"/>
<polygon points="121.6,242.7 139.1,242.7 142.6,240.8 126.5,240.8" fill="#dec78e" stroke="#8f7c4c" stroke-width="0.37"/>
<polygon points="139.1,242.7 156.6,242.7 158.7,240.8 142.6,240.8" fill="#d2b87c" stroke="#8f7c4c" stroke-width="0.37"/>
<polygon points="156.6,242.7 174.1,242.7 174.8,240.8 158.7,240.8" fill="#e0ca92" stroke="#8f7c4c" stroke-width="0.37"/>
<polygon points="174.1,242.7 191.5,242.7 190.8,240.8 174.8,240.8" fill="#d2b87c" stroke="#8f7c4c" stroke-width="0.37"/>
<polygon points="191.5,242.7 209.0,242.7 206.9,240.8 190.8,240.8" fill="#e0ca92" stroke="#8f7c4c" stroke-width="0.37"/>
<polygon points="209.0,242.7 226.5,242.7 223.0,240.8 206.9,240.8" fill="#d2b87c" stroke="#8f7c4c" stroke-width="0.37"/>
<polygon points="226.5,242.7 244.0,242.7 239.1,240.8 223.0,240.8" fill="#dec78e" stroke="#8f7c4c" stroke-width="0.37"/>
<polygon points="244.0,242.7 261.5,242.7 255.2,240.8 239.1,240.8" fill="#cfb377" stroke="#8f7c4c" stroke-width="0.37"/>
<polygon points="261.5,242.7 278.9,242.7 271.2,240.8 255.2,240.8" fill="#dec78e" stroke="#8f7c4c" stroke-width="0.37"/>
<polygon points="278.9,242.7 296.4,242.7 287.3,240.8 271.2,240.8" fill="#cbae70" stroke="#8f7c4c" stroke-width="0.37"/>
<polygon points="54.2,240.8 70.2,240.8 78.6,239.2 63.7,239.2" fill="#d2b87c" stroke="#8f7c4c" stroke-width="0.35"/>
<polygon points="70.2,240.8 86.3,240.8 93.5,239.2 78.6,239.2" fill="#dec78e" stroke="#8f7c4c" stroke-width="0.35"/>
<polygon points="86.3,240.8 102.4,240.8 108.4,239.2 93.5,239.2" fill="#cbae70" stroke="#8f7c4c" stroke-width="0.35"/>
<polygon points="102.4,240.8 118.5,240.8 123.2,239.2 108.4,239.2" fill="#dcc58b" stroke="#8f7c4c" stroke-width="0.35"/>
<polygon points="118.5,240.8 134.6,240.8 138.1,239.2 123.2,239.2" fill="#d2b87c" stroke="#8f7c4c" stroke-width="0.35"/>
<polygon points="134.6,240.8 150.6,240.8 153.0,239.2 138.1,239.2" fill="#dec78e" stroke="#8f7c4c" stroke-width="0.35"/>
<polygon points="150.6,240.8 166.7,240.8 167.9,239.2 153.0,239.2" fill="#cbae70" stroke="#8f7c4c" stroke-width="0.35"/>
<polygon points="166.7,240.8 182.8,240.8 182.8,239.2 167.9,239.2" fill="#dec78e" stroke="#8f7c4c" stroke-width="0.35"/>
<polygon points="182.8,240.8 198.9,240.8 197.7,239.2 182.8,239.2" fill="#cbae70" stroke="#8f7c4c" stroke-width="0.35"/>
<polygon points="198.9,240.8 215.0,240.8 212.6,239.2 197.7,239.2" fill="#dec78e" stroke="#8f7c4c" stroke-width="0.35"/>
<polygon points="215.0,240.8 231.0,240.8 227.5,239.2 212.6,239.2" fill="#cfb377" stroke="#8f7c4c" stroke-width="0.35"/>
<polygon points="231.0,240.8 247.1,240.8 242.4,239.2 227.5,239.2" fill="#e0ca92" stroke="#8f7c4c" stroke-width="0.35"/>
<polygon points="247.1,240.8 263.2,240.8 257.2,239.2 242.4,239.2" fill="#cbae70" stroke="#8f7c4c" stroke-width="0.35"/>
<polygon points="263.2,240.8 279.3,240.8 272.1,239.2 257.2,239.2" fill="#dcc58b" stroke="#8f7c4c" stroke-width="0.35"/>
<polygon points="279.3,240.8 295.4,240.8 287.0,239.2 272.1,239.2" fill="#cbae70" stroke="#8f7c4c" stroke-width="0.35"/>
<polygon points="56.2,239.2 71.1,239.2 78.8,237.9 65.0,237.9" fill="#e0ca92" stroke="#8f7c4c" stroke-width="0.33"/>
<polygon points="71.1,239.2 86.0,239.2 92.7,237.9 78.8,237.9" fill="#d2b87c" stroke="#8f7c4c" stroke-width="0.33"/>
<polygon points="86.0,239.2 100.9,239.2 106.6,237.9 92.7,237.9" fill="#e0ca92" stroke="#8f7c4c" stroke-width="0.33"/>
<polygon points="100.9,239.2 115.8,239.2 120.4,237.9 106.6,237.9" fill="#d2b87c" stroke="#8f7c4c" stroke-width="0.33"/>
<polygon points="115.8,239.2 130.7,239.2 134.3,237.9 120.4,237.9" fill="#dec78e" stroke="#8f7c4c" stroke-width="0.33"/>
<polygon points="130.7,239.2 145.6,239.2 148.1,237.9 134.3,237.9" fill="#cfb377" stroke="#8f7c4c" stroke-width="0.33"/>
<polygon points="145.6,239.2 160.5,239.2 162.0,237.9 148.1,237.9" fill="#e0ca92" stroke="#8f7c4c" stroke-width="0.33"/>
<polygon points="160.5,239.2 175.4,239.2 175.9,237.9 162.0,237.9" fill="#cbae70" stroke="#8f7c4c" stroke-width="0.33"/>
<polygon points="175.4,239.2 190.2,239.2 189.7,237.9 175.9,237.9" fill="#dec78e" stroke="#8f7c4c" stroke-width="0.33"/>
<polygon points="190.2,239.2 205.1,239.2 203.6,237.9 189.7,237.9" fill="#cfb377" stroke="#8f7c4c" stroke-width="0.33"/>
<polygon points="205.1,239.2 220.0,239.2 217.5,237.9 203.6,237.9" fill="#dcc58b" stroke="#8f7c4c" stroke-width="0.33"/>
<polygon points="220.0,239.2 234.9,239.2 231.3,237.9 217.5,237.9" fill="#d2b87c" stroke="#8f7c4c" stroke-width="0.33"/>
<polygon points="234.9,239.2 249.8,239.2 245.2,237.9 231.3,237.9" fill="#dcc58b" stroke="#8f7c4c" stroke-width="0.33"/>
<polygon points="249.8,239.2 264.7,239.2 259.0,237.9 245.2,237.9" fill="#cfb377" stroke="#8f7c4c" stroke-width="0.33"/>
<polygon points="264.7,239.2 279.6,239.2 272.9,237.9 259.0,237.9" fill="#dec78e" stroke="#8f7c4c" stroke-width="0.33"/>
<polygon points="279.6,239.2 294.5,239.2 286.8,237.9 272.9,237.9" fill="#cfb377" stroke="#8f7c4c" stroke-width="0.33"/>
<polygon points="58.0,237.9 71.9,237.9 79.1,236.7 66.1,236.7" fill="#cbae70" stroke="#8f7c4c" stroke-width="0.31"/>
<polygon points="71.9,237.9 85.8,237.9 92.0,236.7 79.1,236.7" fill="#e0ca92" stroke="#8f7c4c" stroke-width="0.31"/>
<polygon points="85.8,237.9 99.6,237.9 105.0,236.7 92.0,236.7" fill="#cfb377" stroke="#8f7c4c" stroke-width="0.31"/>
<polygon points="99.6,237.9 113.5,237.9 118.0,236.7 105.0,236.7" fill="#e0ca92" stroke="#8f7c4c" stroke-width="0.31"/>
<polygon points="113.5,237.9 127.3,237.9 130.9,236.7 118.0,236.7" fill="#d2b87c" stroke="#8f7c4c" stroke-width="0.31"/>
<polygon points="127.3,237.9 141.2,237.9 143.9,236.7 130.9,236.7" fill="#dcc58b" stroke="#8f7c4c" stroke-width="0.31"/>
<polygon points="141.2,237.9 155.1,237.9 156.9,236.7 143.9,236.7" fill="#d2b87c" stroke="#8f7c4c" stroke-width="0.31"/>
<polygon points="155.1,237.9 168.9,237.9 169.8,236.7 156.9,236.7" fill="#dec78e" stroke="#8f7c4c" stroke-width="0.31"/>
<polygon points="168.9,237.9 182.8,237.9 182.8,236.7 169.8,236.7" fill="#d2b87c" stroke="#8f7c4c" stroke-width="0.31"/>
<polygon points="182.8,237.9 196.7,237.9 195.8,236.7 182.8,236.7" fill="#dcc58b" stroke="#8f7c4c" stroke-width="0.31"/>
<polygon points="196.7,237.9 210.5,237.9 208.7,236.7 195.8,236.7" fill="#d2b87c" stroke="#8f7c4c" stroke-width="0.31"/>
<polygon points="210.5,237.9 224.4,237.9 221.7,236.7 208.7,236.7" fill="#dcc58b" stroke="#8f7c4c" stroke-width="0.31"/>
<polygon points="224.4,237.9 238.3,237.9 234.7,236.7 221.7,236.7" fill="#d2b87c" stroke="#8f7c4c" stroke-width="0.31"/>
<polygon points="238.3,237.9 252.1,237.9 247.6,236.7 234.7,236.7" fill="#dcc58b" stroke="#8f7c4c" stroke-width="0.31"/>
<polygon points="252.1,237.9 266.0,237.9 260.6,236.7 247.6,236.7" fill="#d2b87c" stroke="#8f7c4c" stroke-width="0.31"/>
<polygon points="266.0,237.9 279.8,237.9 273.6,236.7 260.6,236.7" fill="#e0ca92" stroke="#8f7c4c" stroke-width="0.31"/>
<polygon points="279.8,237.9 293.7,237.9 286.5,236.7 273.6,236.7" fill="#cfb377" stroke="#8f7c4c" stroke-width="0.31"/>
<polygon points="59.6,236.7 72.6,236.7 79.2,235.7 67.1,235.7" fill="#e0ca92" stroke="#8f7c4c" stroke-width="0.30"/>
<polygon points="72.6,236.7 85.5,236.7 91.4,235.7 79.2,235.7" fill="#d2b87c" stroke="#8f7c4c" stroke-width="0.30"/>
<polygon points="85.5,236.7 98.5,236.7 103.6,235.7 91.4,235.7" fill="#dcc58b" stroke="#8f7c4c" stroke-width="0.30"/>
<polygon points="98.5,236.7 111.5,236.7 115.8,235.7 103.6,235.7" fill="#d2b87c" stroke="#8f7c4c" stroke-width="0.30"/>
<polygon points="111.5,236.7 124.4,236.7 128.0,235.7 115.8,235.7" fill="#e0ca92" stroke="#8f7c4c" stroke-width="0.30"/>
<polygon points="124.4,236.7 137.4,236.7 140.2,235.7 128.0,235.7" fill="#cbae70" stroke="#8f7c4c" stroke-width="0.30"/>
<polygon points="137.4,236.7 150.4,236.7 152.3,235.7 140.2,235.7" fill="#dec78e" stroke="#8f7c4c" stroke-width="0.30"/>
<polygon points="150.4,236.7 163.3,236.7 164.5,235.7 152.3,235.7" fill="#cbae70" stroke="#8f7c4c" stroke-width="0.30"/>
<polygon points="163.3,236.7 176.3,236.7 176.7,235.7 164.5,235.7" fill="#dcc58b" stroke="#8f7c4c" stroke-width="0.30"/>
<polygon points="176.3,236.7 189.3,236.7 188.9,235.7 176.7,235.7" fill="#cfb377" stroke="#8f7c4c" stroke-width="0.30"/>
<polygon points="189.3,236.7 202.3,236.7 201.1,235.7 188.9,235.7" fill="#dcc58b" stroke="#8f7c4c" stroke-width="0.30"/>
<polygon points="202.3,236.7 215.2,236.7 213.3,235.7 201.1,235.7" fill="#cfb377" stroke="#8f7c4c" stroke-width="0.30"/>
<polygon points="215.2,236.7 228.2,236.7 225.4,235.7 213.3,235.7" fill="#e0ca92" stroke="#8f7c4c" stroke-width="0.30"/>
<polygon points="228.2,236.7 241.2,236.7 237.6,235.7 225.4,235.7" fill="#d2b87c" stroke="#8f7c4c" stroke-width="0.30"/>
<polygon points="241.2,236.7 254.1,236.7 249.8,235.7 237.6,235.7" fill="#dcc58b" stroke="#8f7c4c" stroke-width="0.30"/>
<polygon points="254.1,236.7 267.1,236.7 262.0,235.7 249.8,235.7" fill="#cfb377" stroke="#8f7c4c" stroke-width="0.30"/>
<polygon points="267.1,236.7 280.1,236.7 274.2,235.7 262.0,235.7" fill="#dcc58b" stroke="#8f7c4c" stroke-width="0.30"/>
<polygon points="280.1,236.7 293.0,236.7 286.4,235.7 274.2,235.7" fill="#cfb377" stroke="#8f7c4c" stroke-width="0.30"/>
<polygon points="61.0,235.7 73.2,235.7 79.4,234.7 67.9,234.7" fill="#d2b87c" stroke="#8f7c4c" stroke-width="0.29"/>
<polygon points="73.2,235.7 85.3,235.7 90.9,234.7 79.4,234.7" fill="#e0ca92" stroke="#8f7c4c" stroke-width="0.29"/>
<polygon points="85.3,235.7 97.5,235.7 102.4,234.7 90.9,234.7" fill="#cfb377" stroke="#8f7c4c" stroke-width="0.29"/>
<polygon points="97.5,235.7 109.7,235.7 113.9,234.7 102.4,234.7" fill="#dec78e" stroke="#8f7c4c" stroke-width="0.29"/>
<polygon points="109.7,235.7 121.9,235.7 125.4,234.7 113.9,234.7" fill="#cfb377" stroke="#8f7c4c" stroke-width="0.29"/>
<polygon points="121.9,235.7 134.1,235.7 136.9,234.7 125.4,234.7" fill="#e0ca92" stroke="#8f7c4c" stroke-width="0.29"/>
<polygon points="134.1,235.7 146.3,235.7 148.3,234.7 136.9,234.7" fill="#cfb377" stroke="#8f7c4c" stroke-width="0.29"/>
<polygon points="146.3,235.7 158.4,235.7 159.8,234.7 148.3,234.7" fill="#dec78e" stroke="#8f7c4c" stroke-width="0.29"/>
<polygon points="158.4,235.7 170.6,235.7 171.3,234.7 159.8,234.7" fill="#cfb377" stroke="#8f7c4c" stroke-width="0.29"/>
<polygon points="170.6,235.7 182.8,235.7 182.8,234.7 171.3,234.7" fill="#e0ca92" stroke="#8f7c4c" stroke-width="0.29"/>
<polygon points="182.8,235.7 195.0,235.7 194.3,234.7 182.8,234.7" fill="#cfb377" stroke="#8f7c4c" stroke-width="0.29"/>
<polygon points="195.0,235.7 207.2,235.7 205.8,234.7 194.3,234.7" fill="#e0ca92" stroke="#8f7c4c" stroke-width="0.29"/>
<polygon points="207.2,235.7 219.3,235.7 217.3,234.7 205.8,234.7" fill="#cfb377" stroke="#8f7c4c" stroke-width="0.29"/>
<polygon points="219.3,235.7 231.5,235.7 228.7,234.7 217.3,234.7" fill="#e0ca92" stroke="#8f7c4c" stroke-width="0.29"/>
<polygon points="231.5,235.7 243.7,235.7 240.2,234.7 228.7,234.7" fill="#cbae70" stroke="#8f7c4c" stroke-width="0.29"/>
<polygon points="243.7,235.7 255.9,235.7 251.7,234.7 240.2,234.7" fill="#dec78e" stroke="#8f7c4c" stroke-width="0.29"/>
<polygon points="255.9,235.7 268.1,235.7 263.2,234.7 251.7,234.7" fill="#cfb377" stroke="#8f7c4c" stroke-width="0.29"/>
<polygon points="268.1,235.7 280.3,235.7 274.7,234.7 263.2,234.7" fill="#e0ca92" stroke="#8f7c4c" stroke-width="0.29"/>
<polygon points="280.3,235.7 292.4,235.7 286.2,234.7 274.7,234.7" fill="#d2b87c" stroke="#8f7c4c" stroke-width="0.29"/>
<rect x="76" y="219.5" width="210" height="9" fill="#cdae6b" opacity="0.4"/>
<circle cx="285" cy="222" r="3.2" fill="#b9d87a"/>
<polygon points="146,220 156,220 164,235 168,246 160,244 140,235" fill="#8f8560"/>
<polygon points="161.5,149 204,149 212.5,190 210.5,220 203,236 199,245.5 166.5,245.5 163,236 155.5,220 154,190" fill="url(#pil1)"/>
<rect x="168.3" y="149" width="29.4" height="97" fill="#a9abae"/>
<line x1="168.3" x2="197.7" y1="151.5" y2="151.5" stroke="#8b8d92" stroke-width="0.9"/>
<rect x="179.3" y="151.5" width="1.6" height="8.5" fill="#77797e"/>
<rect x="193.2" y="151.5" width="1.6" height="8.5" fill="#77797e"/>
<line x1="168.3" x2="197.7" y1="160.1" y2="160.1" stroke="#8b8d92" stroke-width="0.9"/>
<line x1="168.3" x2="197.7" y1="168.6" y2="168.6" stroke="#8b8d92" stroke-width="0.9"/>
<rect x="179.3" y="168.6" width="1.6" height="8.5" fill="#77797e"/>
<rect x="193.2" y="168.6" width="1.6" height="8.5" fill="#77797e"/>
<line x1="168.3" x2="197.7" y1="177.2" y2="177.2" stroke="#8b8d92" stroke-width="0.9"/>
<line x1="168.3" x2="197.7" y1="185.7" y2="185.7" stroke="#8b8d92" stroke-width="0.9"/>
<rect x="179.3" y="185.7" width="1.6" height="8.5" fill="#77797e"/>
<rect x="193.2" y="185.7" width="1.6" height="8.5" fill="#77797e"/>
<line x1="168.3" x2="197.7" y1="194.3" y2="194.3" stroke="#8b8d92" stroke-width="0.9"/>
<line x1="168.3" x2="197.7" y1="202.8" y2="202.8" stroke="#8b8d92" stroke-width="0.9"/>
<rect x="179.3" y="202.8" width="1.6" height="8.5" fill="#77797e"/>
<rect x="193.2" y="202.8" width="1.6" height="8.5" fill="#77797e"/>
<line x1="168.3" x2="197.7" y1="211.4" y2="211.4" stroke="#8b8d92" stroke-width="0.9"/>
<line x1="168.3" x2="197.7" y1="219.9" y2="219.9" stroke="#8b8d92" stroke-width="0.9"/>
<rect x="179.3" y="219.9" width="1.6" height="8.5" fill="#77797e"/>
<rect x="193.2" y="219.9" width="1.6" height="8.5" fill="#77797e"/>
<line x1="168.3" x2="197.7" y1="228.5" y2="228.5" stroke="#8b8d92" stroke-width="0.9"/>
<line x1="168.3" x2="197.7" y1="237.0" y2="237.0" stroke="#8b8d92" stroke-width="0.9"/>
<rect x="179.3" y="237.0" width="1.6" height="8.5" fill="#77797e"/>
<rect x="193.2" y="237.0" width="1.6" height="8.5" fill="#77797e"/>
<line x1="168.3" x2="197.7" y1="245.6" y2="245.6" stroke="#8b8d92" stroke-width="0.9"/>
<line x1="183" x2="183" y1="149" y2="246" stroke="#9fb4cf" stroke-width="1.3"/>
<line x1="181.7" x2="181.7" y1="149" y2="246" stroke="#94969a" stroke-width="0.8"/>
<path d="M143.5 277 L152 277.5 L156 281 L160 283 L166 291 L175 296 L183 297 L185 305 L175 306 L172 300 L163 296 L156 291 L150 286 Z" fill="#978b62" opacity="0.9"/>
<path d="M152.3 241.2 C157 241.8 163 244.5 167 247.5 L160.5 254.5 C155.5 253.5 152.5 247.5 152.3 241.2Z" fill="#dc98e6"/>
<path d="M213.5 241.2 C208.8 241.8 202.8 244.5 198.8 247.5 L205.3 254.5 C210.3 253.5 213.3 247.5 213.5 241.2Z" fill="#dc98e6"/>
<path d="M153.5 242.5 C157 244 161 245.5 164 247 L160 251 C157 250 154.5 246.5 153.5 242.5Z" fill="#edb2f5"/>
<path d="M212.3 242.5 C209 244 205 245.5 202 247 L206 251 C209 250 211.3 246.5 212.3 242.5Z" fill="#edb2f5"/>
<ellipse cx="182.9" cy="269" rx="28.6" ry="27.6" fill="url(#pigg)"/>
<path d="M181.5 292 C180.5 296 184.5 296 186 297.5 C183.5 298.5 182.5 300 182 303.5" fill="none" stroke="#eaa9f2" stroke-width="2" stroke-linecap="round"/>
</g>
<rect x="76.5" y="149.5" width="209" height="172" rx="22" fill="none" stroke="#dfe8f4" stroke-opacity="0.55" stroke-width="1"/>
  <g class="sans" fill="#fff" text-anchor="middle" font-size="21.5">
    <text x="182.5" y="115.5" textLength="93" lengthAdjust="spacingAndGlyphs">Animal AI</text>
    <text x="182.5" y="143" textLength="124.5" lengthAdjust="spacingAndGlyphs">Environment</text>
  </g>
  <text class="sans" x="86" y="119" font-size="14" fill="#fff" text-anchor="middle">1</text>
  <!-- LLM box -->
  <rect x="537" y="91.5" width="81.5" height="244" rx="12" fill="#62a8dc" stroke="#000" stroke-width="2.5"/>
  <g class="sans" fill="#f4f9fe" text-anchor="middle" font-size="23">
    <text x="577.5" y="194.8">LLM</text>
    <text x="577.5" y="222.5">-</text>
    <text x="577.5" y="250.7">AAI</text>
  </g>
  <!-- Language model -->
  <rect x="862" y="91" width="160.5" height="246" rx="18" fill="#000"/>
  <rect x="864" y="93" width="116" height="241.8" rx="19" fill="#fff"/>
  <text class="sans" transform="translate(993,214) rotate(90)" font-size="23" fill="#fff" text-anchor="middle">Language Model</text>
  <!-- Claude burst -->
<g fill="#d87c5d">
<path d="M926.00 131.80 L929.00 101.24 A3.50 3.50 0 0 0 922.01 100.90 L922.00 131.60 Z"/>
<path d="M925.66 132.82 L943.85 108.42 A3.50 3.50 0 0 0 938.04 104.51 L922.34 130.58 Z"/>
<path d="M925.08 133.39 L950.55 118.89 A3.50 3.50 0 0 0 946.78 112.99 L922.92 130.01 Z"/>
<path d="M923.95 133.70 L955.91 135.96 A3.50 3.50 0 0 0 956.07 128.96 L924.05 129.70 Z"/>
<path d="M922.84 133.33 L948.00 153.01 A3.50 3.50 0 0 0 952.04 147.30 L925.16 130.07 Z"/>
<path d="M922.18 132.54 L935.11 164.11 A3.50 3.50 0 0 0 941.46 161.18 L925.82 130.86 Z"/>
<path d="M922.03 131.38 L915.85 160.56 A3.50 3.50 0 0 0 922.76 161.66 L925.97 132.02 Z"/>
<path d="M922.51 130.37 L900.82 152.48 A3.50 3.50 0 0 0 906.05 157.14 L925.49 133.03 Z"/>
<path d="M923.65 129.73 L892.72 133.63 A3.50 3.50 0 0 0 893.93 140.53 L924.35 133.67 Z"/>
<path d="M924.37 129.73 L893.44 122.40 A3.50 3.50 0 0 0 892.14 129.28 L923.63 133.67 Z"/>
<path d="M925.28 130.16 L902.68 109.41 A3.50 3.50 0 0 0 898.20 114.79 L922.72 133.24 Z"/>
<path d="M925.73 130.69 L912.20 104.60 A3.50 3.50 0 0 0 906.16 108.14 L922.27 132.71 Z"/>
<circle cx="924" cy="131.7" r="9"/>
</g>
<!-- OpenAI -->
<rect x="883.7" y="180.8" width="75.2" height="71.4" rx="15" fill="#4ba283"/>
<g transform="translate(892.9,188.3) scale(2.36)">
<path fill="#fff" d="M22.2819 9.8211a5.9847 5.9847 0 0 0-.5157-4.9108 6.0462 6.0462 0 0 0-6.5098-2.9A6.0651 6.0651 0 0 0 4.9807 4.1818a5.9847 5.9847 0 0 0-3.9977 2.9 6.0462 6.0462 0 0 0 .7427 7.0966 5.98 5.98 0 0 0 .511 4.9107 6.051 6.051 0 0 0 6.5146 2.9001A5.9847 5.9847 0 0 0 13.2599 24a6.0557 6.0557 0 0 0 5.7718-4.2058 5.9894 5.9894 0 0 0 3.9977-2.9001 6.0557 6.0557 0 0 0-.7475-7.0729zm-9.022 12.6081a4.4755 4.4755 0 0 1-2.8764-1.0408l.1419-.0804 4.7783-2.7582a.7948.7948 0 0 0 .3927-.6813v-6.7369l2.02 1.1686a.071.071 0 0 1 .038.052v5.5826a4.504 4.504 0 0 1-4.4945 4.4944zm-9.6607-4.1254a4.4708 4.4708 0 0 1-.5346-3.0137l.142.0852 4.783 2.7582a.7712.7712 0 0 0 .7806 0l5.8428-3.3685v2.3324a.0804.0804 0 0 1-.0332.0615L9.74 19.9502a4.4992 4.4992 0 0 1-6.1408-1.6464zM2.3408 7.8956a4.485 4.485 0 0 1 2.3655-1.9728V11.6a.7664.7664 0 0 0 .3879.6765l5.8144 3.3543-2.0201 1.1685a.0757.0757 0 0 1-.071 0l-4.8303-2.7865A4.504 4.504 0 0 1 2.3408 7.872zm16.5963 3.8558L13.1038 8.364 15.1192 7.2a.0757.0757 0 0 1 .071 0l4.8303 2.7913a4.4944 4.4944 0 0 1-.6765 8.1042v-5.6772a.79.79 0 0 0-.407-.667zm2.0107-3.0231l-.142-.0852-4.7735-2.7818a.7759.7759 0 0 0-.7854 0L9.409 9.2297V6.8974a.0662.0662 0 0 1 .0284-.0615l4.8303-2.7866a4.4992 4.4992 0 0 1 6.6802 4.66zM8.3065 12.863l-2.02-1.1638a.0804.0804 0 0 1-.038-.0567V6.0742a4.4992 4.4992 0 0 1 7.3757-3.4537l-.142.0805L8.704 5.459a.7948.7948 0 0 0-.3927.6813zm1.0976-2.3654l2.602-1.4998 2.6069 1.4998v2.9994l-2.5974 1.4997-2.6067-1.4997Z"/>
</g>

<!-- Gemini -->
<defs><linearGradient id="gem" gradientUnits="userSpaceOnUse" x1="890" y1="318" x2="948" y2="272"><stop offset="0" stop-color="#c07fae"/><stop offset="0.22" stop-color="#9a80cc"/><stop offset="0.5" stop-color="#5f88de"/><stop offset="1" stop-color="#4f9fe2"/></linearGradient></defs>
<path fill="url(#gem)" d="M919.70 259.60 C919.70 274.99 940.33 295.40 955.90 295.40 C940.33 295.40 919.70 315.81 919.70 331.20 C919.70 315.81 899.07 295.40 883.50 295.40 C899.07 295.40 919.70 274.99 919.70 259.60Z"/>
</g>


</svg>
</body></html>
